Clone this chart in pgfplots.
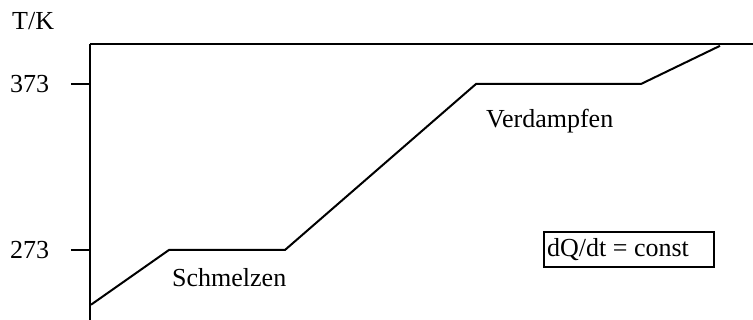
\documentclass[border=0pt]{standalone}
\usepackage{pgfplots}
\pgfplotsset{compat=1.18}
\usepackage{fontspec}
\setmainfont{Liberation Serif}
\begin{document}
\fontsize{26pt}{30pt}\selectfont
\begin{tikzpicture}
\useasboundingbox (0,0) rectangle (753pt,320pt);
\node[anchor=base west, inner sep=0pt] at (12pt,290pt) {T/K};
\begin{axis}[
  at={(90pt,276pt)}, anchor=north west,
  scale only axis, width=663pt, height=276pt,
  xmin=0, xmax=663, ymin=230.8, ymax=397.1,
  axis x line*=top, axis y line*=left,
  axis line style={-, line width=2pt},
  xtick=\empty, ytick={273,373},
  tick align=outside, major tick length=19pt,
  tick style={line width=1.6pt, black},
  yticklabel style={font=\fontsize{26pt}{30pt}\selectfont, xshift=-13pt},
  /pgf/number format/assume math mode=true,
  clip=false,
]
\addplot[black, line width=2pt, mark=none] coordinates {
  (1,240) (79,273) (195,273) (386,373) (551,373) (630,396)
};
\node[anchor=base west, inner sep=0pt] at (axis cs:82,250.7) {Schmelzen};
\node[anchor=base west, inner sep=0pt] at (axis cs:396,346.5) {Verdampfen};
\draw[line width=1.6pt] (axis cs:454,283.8) rectangle (axis cs:624,262.8);
\node[anchor=base west, inner sep=0pt] at (axis cs:457,268.8) {dQ/dt = const};
\end{axis}
\end{tikzpicture}
\end{document}
